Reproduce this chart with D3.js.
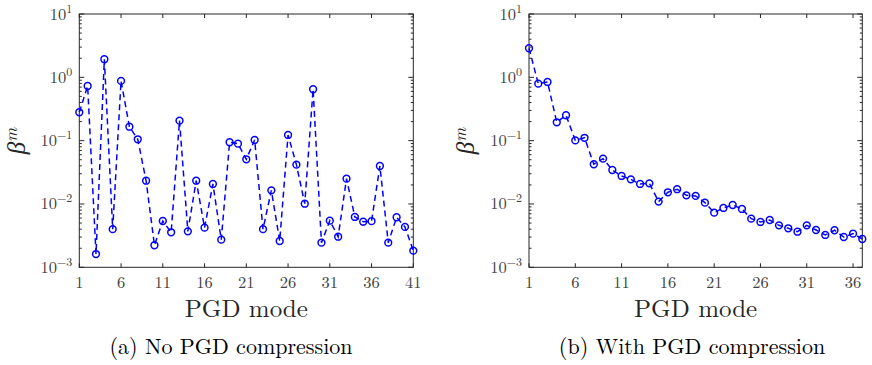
<!DOCTYPE html>
<html lang="en">
<head>
<meta charset="UTF-8">
<title>PGD mode amplitudes</title>
<script src="https://d3js.org/d3.v7.min.js"></script>
<style>
  body { margin: 0; background: #fff; }
  svg { display: block; }
</style>
</head>
<body>
<svg width="872" height="365"></svg>
<script>
// beta^m per PGD mode, without compression (modes 1..41)
const betaNoComp = [
  0.281, 0.73, 0.00162, 1.93, 0.0040, 0.877, 0.166, 0.105, 0.0233, 0.00223,
  0.00538, 0.00357, 0.207, 0.0037, 0.0233, 0.00423, 0.0207, 0.00273, 0.0944, 0.0897,
  0.0508, 0.1026, 0.0040, 0.0164, 0.0026, 0.123, 0.0418, 0.0101, 0.648, 0.00245,
  0.00545, 0.00304, 0.0251, 0.00624, 0.00525, 0.00535, 0.0398, 0.00245, 0.00617, 0.00434,
  0.00183
];
// beta^m per PGD mode, with compression (modes 1..37)
const betaWithComp = [
  2.88, 0.794, 0.845, 0.195, 0.252, 0.101, 0.111, 0.0424, 0.052, 0.0344,
  0.0277, 0.0245, 0.0207, 0.0212, 0.0109, 0.0153, 0.0171, 0.0137, 0.0134, 0.0105,
  0.0073, 0.00865, 0.00964, 0.00834, 0.00586, 0.0052, 0.00558, 0.0046, 0.00413, 0.00365,
  0.0046, 0.00388, 0.00324, 0.00385, 0.00301, 0.0034, 0.0028
];
const ticksA = [1, 6, 11, 16, 21, 26, 31, 36, 41];
const ticksB = [1, 6, 11, 16, 21, 26, 31, 36];
const yDecades = [-3, -2, -1, 0, 1];

const svg = d3.select("svg");
const plotTop = 14, plotBottom = 267.3;
const blue = "#0000ff", axisCol = "#262626";
const serif = "'Latin Modern Roman', 'Liberation Serif', serif";

function addText(g, size, fill) {
  return g.append("text")
    .style("font-family", serif)
    .style("font-size", size + "px")
    .attr("fill", fill);
}

function drawPanel(data, xTicks, left, right, caption, capX, ylabX) {
  const n = data.length;
  const x = d3.scaleLinear().domain([1, n]).range([left, right]);
  const y = d3.scaleLog().domain([1e-3, 10]).range([plotBottom, plotTop]);
  const g = svg.append("g");

  // frame
  g.append("rect")
    .attr("x", left).attr("y", plotTop)
    .attr("width", right - left).attr("height", plotBottom - plotTop)
    .attr("fill", "none").attr("stroke", axisCol).attr("stroke-width", 1);

  // x ticks (bottom + top, inward)
  xTicks.forEach(t => {
    g.append("line").attr("x1", x(t)).attr("x2", x(t)).attr("y1", plotBottom).attr("y2", plotBottom - 4)
      .attr("stroke", axisCol);
    g.append("line").attr("x1", x(t)).attr("x2", x(t)).attr("y1", plotTop).attr("y2", plotTop + 4)
      .attr("stroke", axisCol);
    addText(g, 16.5, "#404040")
      .attr("x", x(t)).attr("y", 288).attr("text-anchor", "middle").text(t);
  });

  // y ticks: majors at decades, minors 2..9
  yDecades.forEach(p => {
    const v = Math.pow(10, p);
    [left, right].forEach((ax, k) => {
      const dir = k === 0 ? 1 : -1;
      g.append("line").attr("x1", ax).attr("x2", ax + dir * 5).attr("y1", y(v)).attr("y2", y(v))
        .attr("stroke", axisCol);
      if (p < 1) {
        for (let m = 2; m <= 9; m++) {
          g.append("line").attr("x1", ax).attr("x2", ax + dir * 2.5)
            .attr("y1", y(m * v)).attr("y2", y(m * v)).attr("stroke", axisCol);
        }
      }
    });
    const lab = addText(g, 16.5, "#404040")
      .attr("x", left - 7).attr("y", y(v) + 5.5).attr("text-anchor", "end");
    lab.append("tspan").text("10");
    lab.append("tspan").attr("dy", -7).style("font-size", "12px")
      .text(p < 0 ? "\u2212" + (-p) : String(p));
  });

  // dashed line + circle markers
  const line = d3.line().x((d, i) => x(i + 1)).y(d => y(d));
  g.append("path").datum(data)
    .attr("d", line).attr("fill", "none").attr("stroke", blue)
    .attr("stroke-width", 1.5).attr("stroke-dasharray", "6,4");
  g.selectAll("circle").data(data).enter().append("circle")
    .attr("cx", (d, i) => x(i + 1)).attr("cy", d => y(d)).attr("r", 3.4)
    .attr("fill", "none").attr("stroke", blue).attr("stroke-width", 1.5);

  // labels
  addText(g, 25, "#262626")
    .attr("x", (left + right) / 2).attr("y", 317).attr("text-anchor", "middle").text("PGD mode");
  const yl = addText(g, 25, "#262626")
    .style("font-style", "italic")
    .attr("transform", `translate(${ylabX},141) rotate(-90)`).attr("text-anchor", "middle");
  yl.append("tspan").text("\u03b2");
  yl.append("tspan").attr("dy", -8).style("font-size", "17px").text("m");
  addText(g, 22, "#000")
    .attr("x", capX).attr("y", 354).attr("text-anchor", "middle").text(caption);
}

drawPanel(betaNoComp, ticksA, 79.3, 413.3, "(a) No PGD compression", 231, 25);
drawPanel(betaWithComp, ticksB, 529, 862.3, "(b) With PGD compression", 692, 474);
</script>
</body>
</html>
